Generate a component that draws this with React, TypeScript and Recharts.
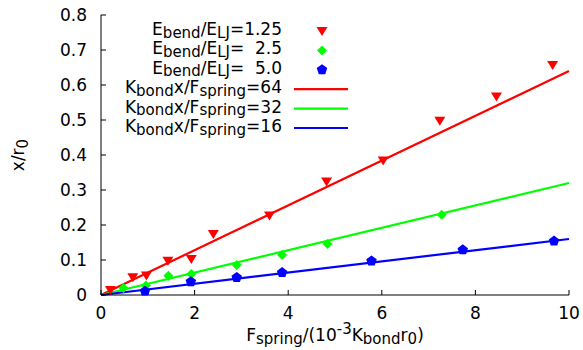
import {
  ComposedChart,
  Line,
  Scatter,
  XAxis,
  YAxis
} from 'recharts'

const FONT = '"DejaVu Sans", sans-serif'

const X_TICKS = [0, 2, 4, 6, 8, 10]
const Y_TICKS = [0, 0.1, 0.2, 0.3, 0.4, 0.5, 0.6, 0.7, 0.8]

// E_bend/E_LJ = 1.25
const RED_X = [0.2, 0.68, 0.97, 1.43, 1.93, 2.4, 3.6, 4.82, 6.03, 7.24, 8.45, 9.65]
const RED_Y = [0.014, 0.051, 0.056, 0.098, 0.103, 0.174, 0.227, 0.324, 0.384, 0.498, 0.567, 0.657]
// E_bend/E_LJ = 2.5
const GREEN_X = [0.48, 0.96, 1.44, 1.93, 2.9, 3.87, 4.84, 7.28]
const GREEN_Y = [0.02, 0.027, 0.055, 0.06, 0.086, 0.114, 0.146, 0.229]
// E_bend/E_LJ = 5.0
const BLUE_X = [0.94, 1.92, 2.9, 3.87, 5.78, 7.73, 9.68]
const BLUE_Y = [0.011, 0.038, 0.05, 0.064, 0.097, 0.129, 0.154]

// fitted lines, K_bond x / F_spring = 64, 32, 16
const FIT_X = [0, 10]
const FIT_RED = [0, 0.64]
const FIT_GREEN = [0, 0.32]
const FIT_BLUE = [0, 0.16]

const RED = '#ff0000'
const GREEN = '#00ff00'
const BLUE = '#0000ff'

const zip = (xs: number[], ys: number[]) => xs.map((x, i) => ({ x, y: ys[i] }))

const redPts = zip(RED_X, RED_Y)
const greenPts = zip(GREEN_X, GREEN_Y)
const bluePts = zip(BLUE_X, BLUE_Y)
const redFit = zip(FIT_X, FIT_RED)
const greenFit = zip(FIT_X, FIT_GREEN)
const blueFit = zip(FIT_X, FIT_BLUE)

function TriDown({ cx, cy, fill }: any) {
  return (
    <polygon
      points={`${cx - 5.5},${cy - 4} ${cx + 5.5},${cy - 4} ${cx},${cy + 5}`}
      fill={fill}
    />
  )
}

function Diamond({ cx, cy, fill }: any) {
  return (
    <polygon
      points={`${cx},${cy - 5} ${cx + 5},${cy} ${cx},${cy + 5} ${cx - 5},${cy}`}
      fill={fill}
    />
  )
}

function Pentagon({ cx, cy, fill }: any) {
  const r = 5.5
  const pts = [0, 1, 2, 3, 4]
    .map((i) => {
      const a = -Math.PI / 2 + (i * 2 * Math.PI) / 5
      return `${cx + r * Math.cos(a)},${cy + r * Math.sin(a)}`
    })
    .join(' ')
  return <polygon points={pts} fill={fill} />
}

const SUB = 15

const LEGEND_ROWS = [
  { kind: 'E', value: '1.25', color: RED, Shape: TriDown },
  { kind: 'E', value: '  2.5', color: GREEN, Shape: Diamond },
  { kind: 'E', value: '  5.0', color: BLUE, Shape: Pentagon },
  { kind: 'K', value: '64', color: RED },
  { kind: 'K', value: '32', color: GREEN },
  { kind: 'K', value: '16', color: BLUE }
]

function LegendBox() {
  const right = 282
  return (
    <svg width={583} height={150} style={{ display: 'block' }}>
      {LEGEND_ROWS.map((r, i) => {
        const base = 35 + i * 19.4
        const mid = base - 5
        return (
          <g key={i}>
            <text
              x={right}
              y={base}
              textAnchor="end"
              fontFamily={FONT}
              fontSize={17}
              fill="#000"
              style={{ whiteSpace: 'pre' }}
            >
              {r.kind === 'E' ? (
                <>
                  <tspan>E</tspan>
                  <tspan fontSize={SUB} dy={2.5}>bend</tspan>
                  <tspan dy={-2.5}>/E</tspan>
                  <tspan fontSize={SUB} dy={2.5}>LJ</tspan>
                  <tspan dy={-2.5}>{'=' + r.value}</tspan>
                </>
              ) : (
                <>
                  <tspan>K</tspan>
                  <tspan fontSize={SUB} dy={2.5}>bond</tspan>
                  <tspan dy={-2.5}>x/F</tspan>
                  <tspan fontSize={SUB} dy={2.5}>spring</tspan>
                  <tspan dy={-2.5}>{'=' + r.value}</tspan>
                </>
              )}
            </text>
            {r.Shape ? (
              <r.Shape cx={322} cy={mid + 1} fill={r.color} />
            ) : (
              <line x1={294} x2={348} y1={mid + 1} y2={mid + 1} stroke={r.color} strokeWidth={2.2} />
            )}
          </g>
        )
      })}
    </svg>
  )
}

function XLabel({ viewBox }: any) {
  const cx = viewBox.x + viewBox.width / 2
  const y = viewBox.y + 46
  return (
    <text x={cx} y={y} textAnchor="middle" fontFamily={FONT} fontSize={17} fill="#000">
      <tspan>F</tspan>
      <tspan fontSize={SUB} dy={3}>spring</tspan>
      <tspan dy={-3}>/(10</tspan>
      <tspan fontSize={SUB} dy={-7}>-3</tspan>
      <tspan dy={7}>K</tspan>
      <tspan fontSize={SUB} dy={3}>bond</tspan>
      <tspan dy={-3}>r</tspan>
      <tspan fontSize={SUB} dy={3}>0</tspan>
      <tspan dy={-3}>)</tspan>
    </text>
  )
}

function YLabel({ viewBox }: any) {
  const x = 24
  const cy = viewBox.y + viewBox.height / 2
  return (
    <text
      x={x}
      y={cy}
      textAnchor="middle"
      fontFamily={FONT}
      fontSize={17}
      fill="#000"
      transform={`rotate(-90 ${x} ${cy})`}
    >
      <tspan>x/r</tspan>
      <tspan fontSize={SUB} dy={4}>0</tspan>
    </text>
  )
}

const TICK = { fontFamily: FONT, fontSize: 17, fill: '#000' }
const AXIS_LINE = { stroke: '#000', strokeWidth: 1 }

export default function App() {
  return (
    <div style={{ position: 'absolute', left: 0, top: 0, width: 583, height: 350 }}>
      <ComposedChart
        width={583}
        height={350}
        margin={{ top: 15, right: 14, bottom: 0, left: 0 }}
      >
        <XAxis
          xAxisId={0}
          type="number"
          dataKey="x"
          domain={[0, 10]}
          ticks={X_TICKS}
          interval={0}
          tickSize={-5}
          tickMargin={17}
          tick={TICK}
          axisLine={AXIS_LINE}
          tickLine={AXIS_LINE}
          height={55}
          label={<XLabel />}
        />
        <XAxis
          xAxisId="top"
          orientation="top"
          type="number"
          dataKey="x"
          domain={[0, 10]}
          ticks={X_TICKS}
          interval={0}
          tickSize={-5}
          tick={false}
          axisLine={AXIS_LINE}
          tickLine={AXIS_LINE}
          height={0}
        />
        <YAxis
          yAxisId={0}
          type="number"
          dataKey="y"
          domain={[0, 0.8]}
          ticks={Y_TICKS}
          interval={0}
          tickSize={-5}
          tickMargin={19}
          tick={TICK}
          tickFormatter={(v: number) => String(Math.round(v * 10) / 10)}
          axisLine={AXIS_LINE}
          tickLine={AXIS_LINE}
          width={101}
          label={<YLabel />}
        />
        <YAxis
          yAxisId="right"
          orientation="right"
          type="number"
          dataKey="y"
          domain={[0, 0.8]}
          ticks={Y_TICKS}
          interval={0}
          tickSize={-5}
          tick={false}
          axisLine={AXIS_LINE}
          tickLine={AXIS_LINE}
          width={0}
        />
        <Scatter data={redPts} dataKey="y" fill={RED} shape={<TriDown />} isAnimationActive={false} />
        <Scatter data={greenPts} dataKey="y" fill={GREEN} shape={<Diamond />} isAnimationActive={false} />
        <Scatter data={bluePts} dataKey="y" fill={BLUE} shape={<Pentagon />} isAnimationActive={false} />
        <Line data={redFit} dataKey="y" stroke={RED} strokeWidth={2.2} dot={false} isAnimationActive={false} />
        <Line data={greenFit} dataKey="y" stroke={GREEN} strokeWidth={2.2} dot={false} isAnimationActive={false} />
        <Line data={blueFit} dataKey="y" stroke={BLUE} strokeWidth={2.2} dot={false} isAnimationActive={false} />
      </ComposedChart>
      <div style={{ position: 'absolute', left: 0, top: 0, pointerEvents: 'none' }}>
        <LegendBox />
      </div>
    </div>
  )
}
